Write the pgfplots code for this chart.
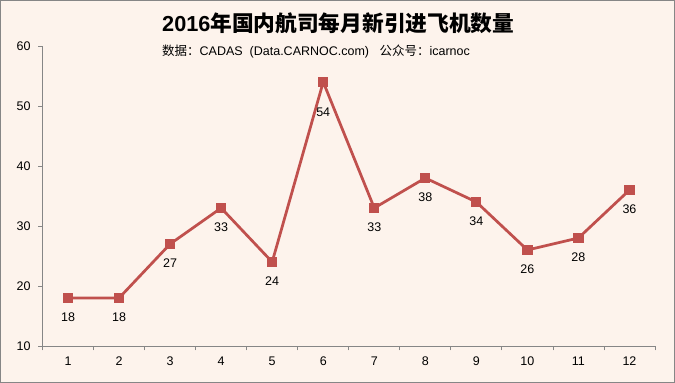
\documentclass[border=0pt]{standalone}
\usepackage{pgfplots}
\usepackage{pgfplotstable}
\pgfplotsset{compat=1.18}
\usepackage{fontspec}
\setmainfont{Liberation Sans}
\newfontfamily\cjk{Noto Sans CJK SC}
\definecolor{bgc}{RGB}{253,243,236}
\definecolor{framec}{RGB}{134,134,134}
\definecolor{axisc}{RGB}{134,134,134}
\definecolor{linec}{RGB}{192,80,77}
\pgfplotstableread{
m v dy
1 18 -15
2 18 -15
3 27 -15
4 33 -15
5 24 -15
6 54 -26
7 33 -15
8 38 -15
9 34 -15
10 26 -15
11 28 -15
12 36 -15
}\datatab
\begin{document}
\begin{tikzpicture}[x=1pt,y=1pt]
\fill[bgc] (0,0) rectangle (675,383);
\draw[framec, line width=1pt] (0.5,0.5) rectangle (674.5,382.5);
\node[anchor=west, inner sep=0, font=\bfseries\fontsize{21.7}{24}\selectfont] at (162,360) {2016{\cjk\bfseries 年国内航司每月新引进飞机数量}};
\node[anchor=west, inner sep=0, font=\fontsize{12.5}{14}\selectfont] at (162,331) {{\cjk 数据：}CADAS\ \ (Data.CARNOC.com)\ \ \ {\cjk 公众号：}icarnoc};
\begin{axis}[
  at={(42.5pt,37pt)}, anchor=south west,
  scale only axis, width=612.5pt, height=300pt,
  xmin=0.5, xmax=12.5, ymin=10, ymax=60,
  axis lines=left,
  axis line style={draw=axisc, line width=0.8pt, -},
  clip=false,
  xtick={1,...,12},
  minor xtick={0.5,1.5,...,12.5},
  ytick={10,20,...,60},
  major x tick style={draw=none},
  tick align=outside,
  major tick length=4.5pt, minor tick length=4.5pt,
  every tick/.style={draw=axisc, line width=0.8pt},
  minor x tick style={draw=axisc, line width=0.8pt},
  tick label style={font=\fontsize{12.5}{14}\selectfont, text=black},
  /pgf/number format/assume math mode=true,
  xticklabel style={yshift=-3pt},
  yticklabel style={xshift=-4pt},
]
\addplot[color=linec, line width=2.75pt, mark=square*, mark size=4.6pt,
  mark options={solid, fill=linec, draw=linec, line width=0pt},
  visualization depends on={\thisrow{dy} \as \dy},
  nodes near coords,
  every node near coord/.style={anchor=north, yshift=\dy, inner sep=0pt, text=black, font=\fontsize{12.5}{14}\selectfont},
  ] table[x=m, y=v] {\datatab};
\end{axis}
\end{tikzpicture}
\end{document}
